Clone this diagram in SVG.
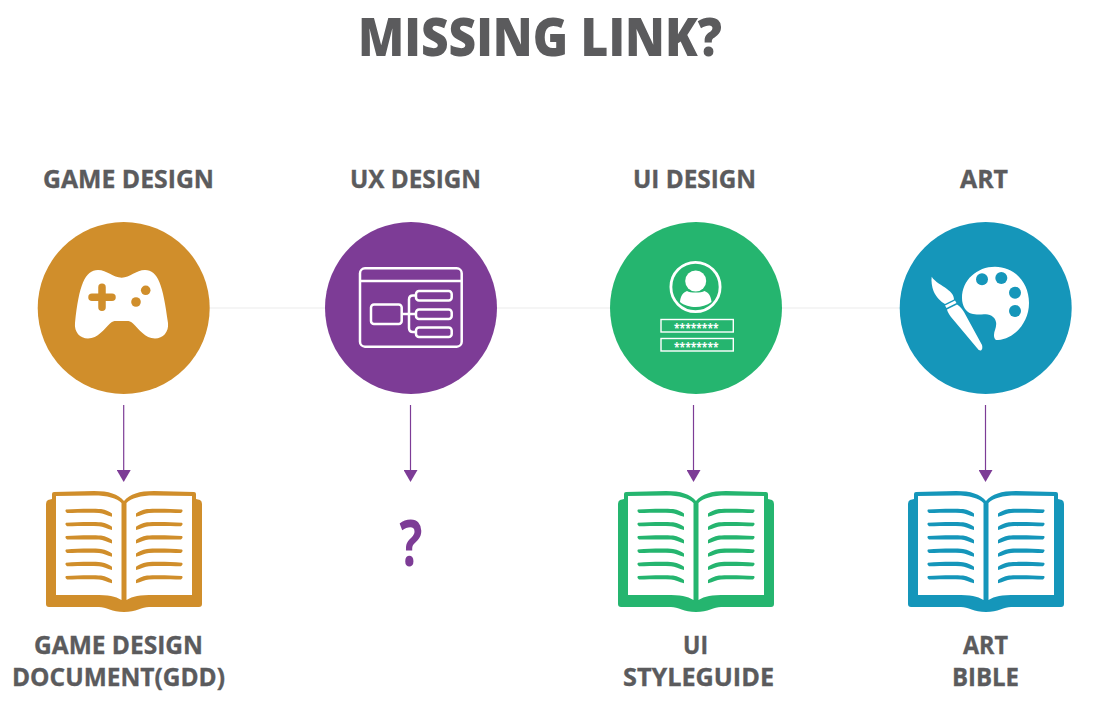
<svg xmlns="http://www.w3.org/2000/svg" xmlns:xlink="http://www.w3.org/1999/xlink" width="1096" height="713" viewBox="0 0 1096 713">
<style>
text{font-family:"Open Sans","Liberation Sans",sans-serif;font-weight:700;fill:#5b5b5d}
.lb{font-size:24.500px;stroke:#5b5b5d;stroke-width:.35}
.ln{stroke:#7d3c96;stroke-width:1.2;fill:none}
.w{fill:#fff}
.ws{fill:none;stroke:#fff}
.star{font-size:13px;fill:#fff}
</style>
<defs>
<marker id="ah" markerUnits="userSpaceOnUse" markerWidth="12" markerHeight="14" refX="0" refY="7" orient="auto" viewBox="0 0 12 14" preserveAspectRatio="none"><path d="M0,0L12,7L0,14Z" fill="#7d3c96"/></marker>
<g id="book">
<path fill="currentColor" d="M-72,34Q-72,32-70,32L-30,31C-15,31-6,34 0,41C6,34 15,31 30,31L70,32Q72,32 72,34L72,39L76,40Q78,41 78,44L78,144Q78,147 75,147L25,147C18,147 12,152 0,152C-12,152-18,147-25,147L-75,147Q-78,147-78,144L-78,44Q-78,41-76,40L-72,39Z"/>
<path fill="#fff" d="M-68,36L-30,35.500C-17,35.500-7,38-2.500,43L-2.500,140C-9,136-15,135-30,135L-68,135ZM2.500,43C7,38 17,35.500 30,35.500L68,36L68,135L30,135C15,135 9,136 2.500,140Z"/>
<g fill="currentColor">
<path id="bl1" d="M-58,49.500C-45,48.500-30,48.500-23,49C-18,49.500-14,52-12,53.500L-12,56.800C-17,55.500-21,53-25,53C-35,52.500-47,53-57,53Q-59.500,51-58,49.500Z"/>
<use href="#bl1" y="13.300"/><use href="#bl1" y="26.600"/><use href="#bl1" y="39.900"/><use href="#bl1" y="53.200"/><use href="#bl1" y="66.500"/>
<g transform="scale(-1,1)"><use href="#bl1"/><use href="#bl1" y="13.300"/><use href="#bl1" y="26.600"/><use href="#bl1" y="39.900"/><use href="#bl1" y="53.200"/><use href="#bl1" y="66.500"/></g>
</g>
</g>
</defs>
<rect width="1096" height="713" fill="#fff"/>
<text id="title" x="358" y="56" font-size="53" style="font-weight:800" textLength="364" lengthAdjust="spacingAndGlyphs">MISSING LINK?</text>
<g id="connectors">
<line x1="205" y1="308" x2="905" y2="308" stroke="#ebebeb" stroke-width="1"/>
<line class="ln" x1="123.700" y1="405" x2="123.700" y2="470" marker-end="url(#ah)"/>
<line class="ln" x1="410.500" y1="405" x2="410.500" y2="470" marker-end="url(#ah)"/>
<line class="ln" x1="693.500" y1="405" x2="693.500" y2="470" marker-end="url(#ah)"/>
<line class="ln" x1="985.500" y1="405" x2="985.500" y2="470" marker-end="url(#ah)"/>
</g>
<g id="node-game">
<text class="lb" x="43" y="188" textLength="171" lengthAdjust="spacingAndGlyphs">GAME DESIGN</text>
<circle cx="123.700" cy="308" r="86" fill="#d08e2b"/>
<path class="w" d="M98,270C107,270 113,277.700 121.700,277.700C130,277.700 136,270 145,270C158,270 163,285 168,323C169,332 163,338.500 155,338.500C145,338.500 139,329 133,323.500C131,321.500 129,321 127,321L116,321C114,321 112,321.500 110,323.500C104,329 98,338.500 88,338.500C80,338.500 74,332 75,323C79,285 85,270 98,270Z"/>
<path d="M92,297.300H112M102,287.300V307.300" stroke="#d08e2b" stroke-width="7.500" stroke-linecap="round" fill="none"/>
<circle cx="145.700" cy="290.300" r="4.800" fill="#d08e2b"/><circle cx="136" cy="302" r="4.800" fill="#d08e2b"/>
</g>
<g id="node-ux">
<text class="lb" x="350" y="188" textLength="131" lengthAdjust="spacingAndGlyphs">UX DESIGN</text>
<circle cx="411" cy="308" r="86" fill="#7d3c96"/>
<g class="ws" stroke-width="2.500">
<rect x="360" y="268.300" width="101.700" height="78.400" rx="5"/>
<path d="M360,281H461.700"/>
<rect x="371" y="304.500" width="30.700" height="19.500" rx="3"/>
<rect x="416" y="291" width="35.700" height="9.500" rx="3"/>
<rect x="416" y="309.500" width="35.700" height="9.500" rx="3"/>
<rect x="416" y="327.500" width="35.700" height="9.500" rx="3"/>
<path d="M401.700,314H416M416,295.500H413Q409,295.500 409,299.500V328Q409,332 413,332H416"/>
</g>
</g>
<g id="node-ui">
<text class="lb" x="633" y="188" textLength="123" lengthAdjust="spacingAndGlyphs">UI DESIGN</text>
<circle cx="696" cy="308" r="86" fill="#25b56f"/>
<circle class="ws" cx="695.500" cy="287" r="24.600" stroke-width="2.800"/>
<circle class="w" cx="695.700" cy="281" r="10.500"/>
<path class="w" d="M680,302C680.500,296 683,292.500 687,291C690,293 701,293 704.500,291C708.500,292.500 711,296 711.500,302C707,305.500 701,307 695.700,307C690,307 684,305.500 680,302Z"/>
<rect class="ws" x="661" y="319.500" width="72.300" height="12.500" stroke-width="1.400"/>
<rect class="ws" x="661" y="338.500" width="72.300" height="12.500" stroke-width="1.400"/>
<text class="star" x="674" y="333.300" textLength="44.500" lengthAdjust="spacingAndGlyphs">********</text>
<text class="star" x="674" y="352.300" textLength="44.500" lengthAdjust="spacingAndGlyphs">********</text>
</g>
<g id="node-art">
<text class="lb" x="960" y="188" textLength="48" lengthAdjust="spacingAndGlyphs">ART</text>
<circle cx="985.700" cy="308" r="86" fill="#1596ba"/>
<path class="w" d="M962,298C962,280 977,266.700 995,266.700C1015,266.700 1029,283 1029,303C1029,323 1014,339 998,340C995,340.500 994,338 994,335C994,331 997,327 996,322C995,316 989,314.300 984,314.300C980,314.500 976,315 971,313.500C966,312 962,306 962,298Z"/>
<g fill="#1596ba"><circle cx="982" cy="279.300" r="6"/><circle cx="1001.300" cy="278" r="6"/><circle cx="1015" cy="292.700" r="6"/><circle cx="1015" cy="311" r="6"/></g>
<path class="w" d="M931.700,276.700C935,282 942,285 947,289C951,292 954,295 954,299.500L945,304C941,302 936,297 933.500,291C932,287 931,281 931.700,276.700Z"/>
<path class="w" d="M945,305.500L955,300.500L956.500,303L946.500,308ZM947,309.500L957,304.500C960,306 962,309 964,312L982,345Q983,349 981,350.500Q979,351 977,348L951,317C949,314 947.500,312 947,309.500Z"/>
</g>
<g id="doc-game" color="#d08e2b" transform="translate(124,460)"><use href="#book"/></g>
<g id="doc-ux"><text transform="translate(411,566) scale(0.74,1)" font-size="65" text-anchor="middle" style="fill:#7d3c96">?</text></g>
<g id="doc-ui" color="#25b56f" transform="translate(696,460)"><use href="#book"/></g>
<g id="doc-art" color="#1596ba" transform="translate(986,460)"><use href="#book"/></g>
<g id="labels">
<text class="lb" x="34" y="654" textLength="169" lengthAdjust="spacingAndGlyphs">GAME DESIGN</text>
<text class="lb" x="12" y="686" textLength="213" lengthAdjust="spacingAndGlyphs">DOCUMENT(GDD)</text>
<text class="lb" x="683" y="654" textLength="25" lengthAdjust="spacingAndGlyphs">UI</text>
<text class="lb" x="623" y="686" textLength="151" lengthAdjust="spacingAndGlyphs">STYLEGUIDE</text>
<text class="lb" x="963" y="654" textLength="45" lengthAdjust="spacingAndGlyphs">ART</text>
<text class="lb" x="952" y="686" textLength="67" lengthAdjust="spacingAndGlyphs">BIBLE</text>
</g>
</svg>
